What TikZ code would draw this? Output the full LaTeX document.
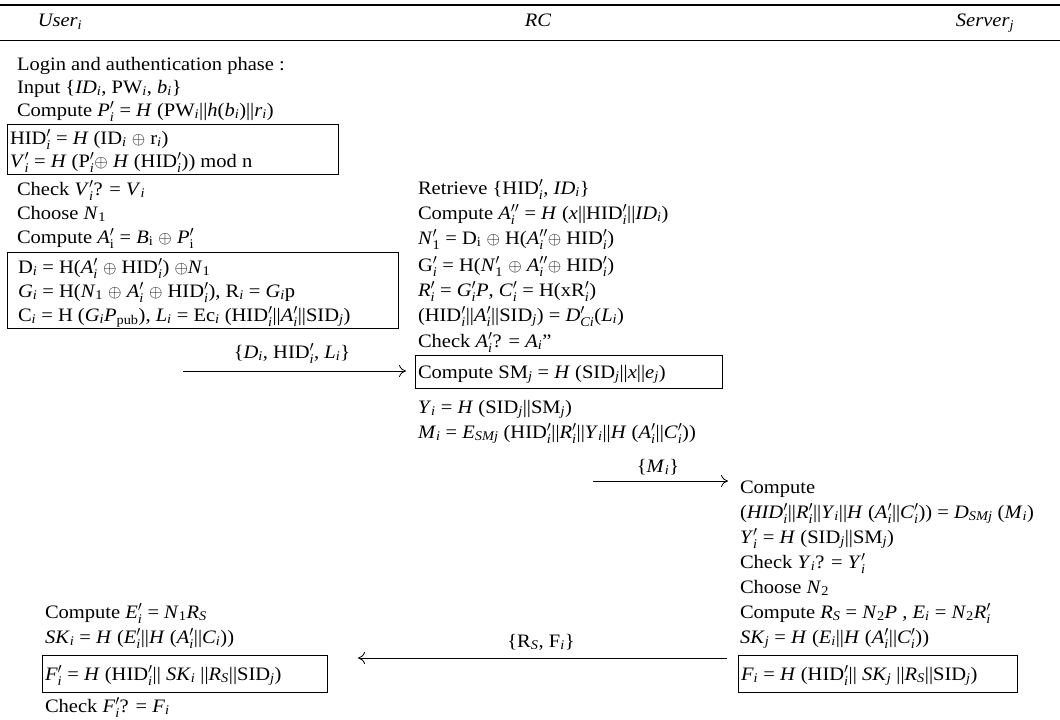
\documentclass[tikz,border=0pt]{standalone}
\usepackage{fontspec}
\setmainfont{Liberation Serif}[FakeStretch=1.08]
\usepackage{amsmath}
\usetikzlibrary{arrows.meta}
% sub- and superscript helpers set in the text font
\newcommand\lo[1]{\ensuremath{_{\text{\itshape #1}}}}
\newcommand\lu[1]{\ensuremath{_{\text{\upshape #1}}}}
\newcommand\pri[1]{\ensuremath{^{\prime}_{\text{\itshape #1}}}}
\newcommand\priu[1]{\ensuremath{^{\prime}_{\text{\upshape #1}}}}
\newcommand\dpri[1]{\ensuremath{^{\prime\prime}_{\text{\itshape #1}}}}
\newcommand\xo{\ensuremath{\oplus}}
\newcommand\vv{||}
\begin{document}
\begin{tikzpicture}[x=1pt,y=-1pt,
  every node/.style={inner sep=0pt,outer sep=0pt},
  txt/.style={anchor=base west,font=\fontsize{19}{22}\selectfont},
  lbl/.style={anchor=base,font=\fontsize{19}{22}\selectfont},
  frame/.style={draw,line width=0.9pt,anchor=north west},
  msg/.style={line width=0.8pt,-{To[length=7pt,width=12pt]}}]
\useasboundingbox (0,0) rectangle (1060,720);

% header rules and column titles
\draw[line width=2pt] (0,5) -- (1060,5);
\draw[line width=0.8pt] (0,40) -- (1060,40);
\node[lbl] (hu) at (60,27) {\textit{User}\lo{i}};
\node[lbl] (hr) at (538,27) {\textit{RC}};
\node[lbl] (hs) at (985,27) {\textit{Server}\lo{j}};

% ---- user side: login ----
\node[txt] (u1) at (17,70) {Login and authentication phase :};
\node[txt] (u2) at (17,93) {Input \{\textit{ID}\lo{i}, PW\lo{i}, \textit{b}\lo{i}\}};
\node[txt] (u3) at (17,116) {Compute \textit{P}\pri{i} = \textit{H} (PW\lo{i}\vv\textit{h}(\textit{b}\lo{i})\vv\textit{r}\lo{i})};
\node[frame,minimum width=331,minimum height=50] (b1) at (7,124) {};
\node[txt] (u4) at (10,144) {HID\pri{i} = \textit{H} (ID\lo{i} \xo{} r\lo{i})};
\node[txt] (u5) at (10,167) {\textit{V}\pri{i} = \textit{H} (P\pri{i}\xo{} \textit{H} (HID\pri{i})) mod n};
\node[txt] (u6) at (17,195) {Check \textit{V}\pri{i}? = \textit{V}\lo{i}};
\node[txt] (u7) at (17,219) {Choose \textit{N}\lu{1}};
\node[txt] (u8) at (17,243) {Compute \textit{A}\priu{i} = \textit{B}\lu{i} \xo{} \textit{P}\priu{i}};
\node[frame,minimum width=391,minimum height=76] (b2) at (7,252) {};
\node[txt] (u9) at (18,273) {D\lo{i} = H(\textit{A}\pri{i} \xo{} HID\pri{i}) \xo\textit{N}\lu{1}};
\node[txt] (u10) at (18,297) {\textit{G}\lo{i} = H(\textit{N}\lu{1} \xo{} \textit{A}\pri{i} \xo{} HID\pri{i}), R\lo{i} = \textit{G}\lo{i}p};
\node[txt] (u11) at (18,321) {C\lo{i} = H (\textit{G}\lo{i}\textit{P}\lu{pub}), \textit{L}\lo{i} = Ec\lo{i} (HID\pri{i}\vv\textit{A}\pri{i}\vv SID\lo{j})};

% message 1
\node[lbl] (l1) at (292,358) {\{\textit{D}\lo{i}, HID\pri{i}, \textit{L}\lo{i}\}};
\coordinate (a1s) at (183,371);
\coordinate (a1e) at (406,371);
\draw[msg] (a1s) -- (a1e);

% ---- registration centre ----
\node[txt] (r1) at (418,194) {Retrieve \{HID\pri{i}, \textit{ID}\lo{i}\}};
\node[txt] (r2) at (418,219) {Compute \textit{A}\dpri{i} = \textit{H} (\textit{x}\vv HID\pri{i}\vv\textit{ID}\lo{i})};
\node[txt] (r3) at (418,244) {\textit{N}\priu{1} = D\lu{i} \xo{} H(\textit{A}\dpri{i}\xo{} HID\pri{i})};
\node[txt] (r4) at (418,271) {G\pri{i} = H(\textit{N}\priu{1} \xo{} \textit{A}\dpri{i}\xo{} HID\pri{i})};
\node[txt] (r5) at (418,296) {\textit{R}\pri{i} = \textit{G}\pri{i}\textit{P}, \textit{C}\pri{i} = H(xR\pri{i})};
\node[txt] (r6) at (418,321) {(HID\pri{i}\vv\textit{A}\pri{i}\vv SID\lo{j}) = \textit{D}\pri{Ci}(\textit{L}\lo{i})};
\node[txt] (r7) at (418,347) {Check \textit{A}\pri{i}? = \textit{A}\lo{i}”};
\node[frame,minimum width=307,minimum height=33] (b3) at (415,355) {};
\node[txt] (r8) at (418,378) {Compute SM\lo{j} = \textit{H} (SID\lo{j}\vv\textit{x}\vv\textit{e}\lo{j})};
\node[txt] (r9) at (418,413) {\textit{Y}\lo{i} = \textit{H} (SID\lo{j}\vv SM\lo{j})};
\node[txt] (r10) at (418,438) {\textit{M}\lo{i} = \textit{E}\lo{SMj} (HID\pri{i}\vv\textit{R}\pri{i}\vv\textit{Y}\lo{i}\vv\textit{H} (\textit{A}\pri{i}\vv\textit{C}\pri{i}))};

% message 2
\node[lbl] (l2) at (658,472) {\{\textit{M}\lo{i}\}};
\coordinate (a2s) at (593,481);
\coordinate (a2e) at (728,481);
\draw[msg] (a2s) -- (a2e);

% ---- server side ----
\node[txt] (s1) at (740,493) {Compute};
\node[txt] (s2) at (740,518) {(\textit{HID}\pri{i}\vv\textit{R}\pri{i}\vv\textit{Y}\lo{i}\vv\textit{H} (\textit{A}\pri{i}\vv\textit{C}\pri{i})) = \textit{D}\lo{SMj} (\textit{M}\lo{i})};
\node[txt] (s3) at (740,543) {\textit{Y}\pri{i} = \textit{H} (SID\lo{j}\vv SM\lo{j})};
\node[txt] (s4) at (740,568) {Check \textit{Y}\lo{i}? = \textit{Y}\pri{i}};
\node[txt] (s5) at (740,593) {Choose \textit{N}\lu{2}};
\node[txt] (s6) at (740,618) {Compute \textit{R}\lo{S} = \textit{N}\lu{2}\textit{P} , \textit{E}\lo{i} = \textit{N}\lu{2}\textit{R}\pri{i}};
\node[txt] (s7) at (740,643) {\textit{SK}\lo{j} = \textit{H} (\textit{E}\lo{i}\vv\textit{H} (\textit{A}\pri{i}\vv\textit{C}\pri{i}))};
\node[frame,minimum width=279,minimum height=37] (b4) at (738,655) {};
\node[txt] (s8) at (741,680) {\textit{F}\lo{i} = \textit{H} (HID\pri{i}\vv{} \textit{SK}\lo{j} \vv\textit{R}\lo{S}\vv SID\lo{j})};

% message 3
\node[lbl] (l3) at (541,647) {\{R\lo{S}, F\lo{i}\}};
\coordinate (a3s) at (727,658);
\coordinate (a3e) at (358,658);
\draw[msg] (a3s) -- (a3e);

% ---- user side: key agreement ----
\node[txt] (u12) at (45,618) {Compute \textit{E}\pri{i} = \textit{N}\lu{1}\textit{R}\lo{S}};
\node[txt] (u13) at (45,643) {\textit{SK}\lo{i} = \textit{H} (\textit{E}\pri{i}\vv\textit{H} (\textit{A}\pri{i}\vv\textit{C}\lo{i}))};
\node[frame,minimum width=285,minimum height=37] (b5) at (42,655) {};
\node[txt] (u14) at (45,680) {\textit{F}\pri{i} = \textit{H} (HID\pri{i}\vv{} \textit{SK}\lo{i} \vv\textit{R}\lo{S}\vv SID\lo{j})};
\node[txt] (u15) at (45,712) {Check \textit{F}\pri{i}? = \textit{F}\lo{i}};
\end{tikzpicture}
\end{document}
